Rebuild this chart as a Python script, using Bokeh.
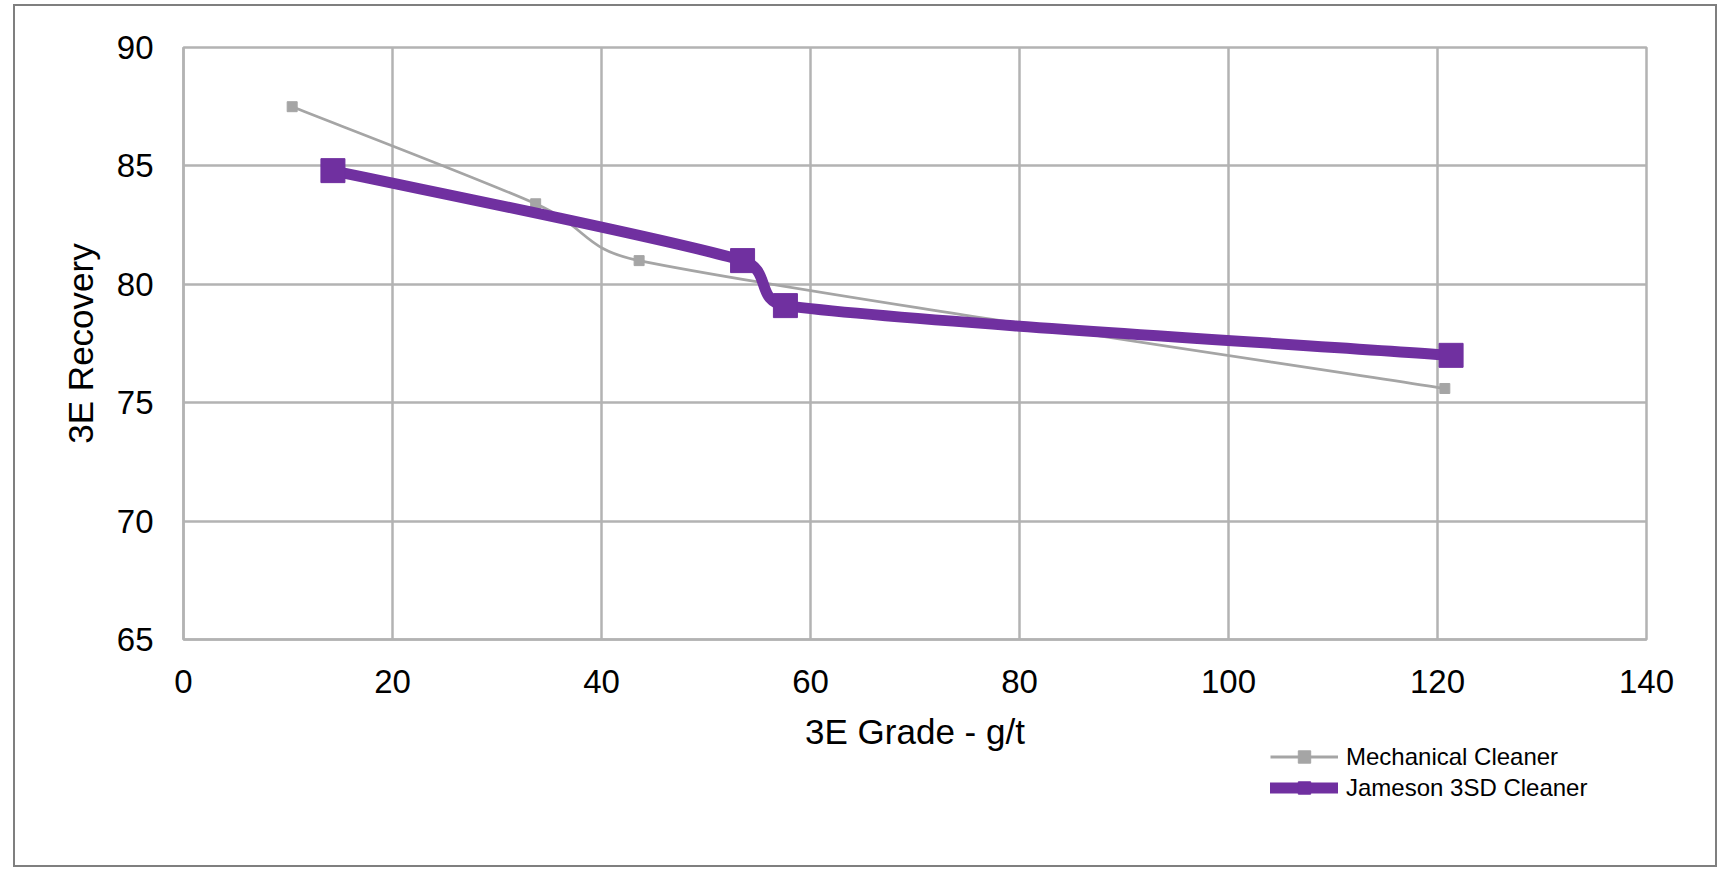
import math
from bokeh.plotting import figure
from bokeh.layouts import column
from bokeh.models import Legend, LegendItem, FixedTicker, Range1d, ColumnDataSource
from bokeh.embed import file_html
from bokeh.resources import INLINE

# ---- data ----
mech_x = [10.4, 33.7, 43.6, 120.7]
mech_y = [87.5, 83.4, 81.0, 75.6]
jam_x = [14.3, 53.5, 57.6, 121.3]
jam_y = [84.8, 81.0, 79.1, 77.0]
x_ticks = [0, 20, 40, 60, 80, 100, 120, 140]
y_ticks = [65, 70, 75, 80, 85, 90]
mech_label = "Mechanical Cleaner"
jam_label = "Jameson 3SD Cleaner"
x_title = "3E Grade - g/t"
y_title = "3E Recovery"

# ---- style ----
GRAY = "#a5a5a5"
PURPLE = "#7030a0"
GRID = "#b3b3b3"
FONT = "Liberation Sans"
FW, FH = 1463, 592
ML, MR, MT = 168, 69, 41
X0, X1, Y0, Y1 = 0, 140, 65, 90
KX = FW / (X1 - X0)
KY = FH / (Y1 - Y0)


def smooth_segments(xs, ys):
    """Excel-style smoothed line: cubic Bezier control points per segment."""
    n = len(xs)
    px = [x * KX for x in xs]
    py = [y * KY for y in ys]
    out = {k: [] for k in ("x0", "y0", "x1", "y1", "cx0", "cy0", "cx1", "cy1")}
    for i in range(n - 1):
        i0 = max(i - 1, 0)
        i3 = min(i + 2, n - 1)
        p0 = (px[i0], py[i0]); p1 = (px[i], py[i])
        p2 = (px[i + 1], py[i + 1]); p3 = (px[i3], py[i3])
        d12 = math.hypot(p2[0] - p1[0], p2[1] - p1[1])
        d02 = math.hypot(p2[0] - p0[0], p2[1] - p0[1])
        d13 = math.hypot(p3[0] - p1[0], p3[1] - p1[1])
        f1 = 1 / 6 if (d02 / 6 < d12 / 2 or d02 == 0) else d12 / (2 * d02)
        f2 = 1 / 6 if (d13 / 6 < d12 / 2 or d13 == 0) else d12 / (2 * d13)
        c1 = (p1[0] + (p2[0] - p0[0]) * f1, p1[1] + (p2[1] - p0[1]) * f1)
        c2 = (p2[0] - (p3[0] - p1[0]) * f2, p2[1] - (p3[1] - p1[1]) * f2)
        out["x0"].append(xs[i]); out["y0"].append(ys[i])
        out["x1"].append(xs[i + 1]); out["y1"].append(ys[i + 1])
        out["cx0"].append(c1[0] / KX); out["cy0"].append(c1[1] / KY)
        out["cx1"].append(c2[0] / KX); out["cy1"].append(c2[1] / KY)
    return ColumnDataSource(out)


p = figure(
    frame_width=FW, frame_height=FH,
    x_range=Range1d(X0, X1), y_range=Range1d(Y0, Y1),
    output_backend="svg", toolbar_location=None,
    min_border_left=ML, min_border_right=MR,
    min_border_top=MT, min_border_bottom=60,
    background_fill_color="white", border_fill_color="white",
)
p.outline_line_color = GRID
p.outline_line_width = 2.5

for ax, ticks in ((p.xaxis, x_ticks), (p.yaxis, y_ticks)):
    ax.ticker = FixedTicker(ticks=ticks)
    ax.axis_line_color = GRID
    ax.axis_line_width = 2.5
    ax.major_tick_line_color = None
    ax.minor_tick_line_color = None
    ax.major_tick_out = 0
    ax.major_tick_in = 0
    ax.major_label_text_font = FONT
    ax.major_label_text_font_size = "33px"
    ax.major_label_text_color = "#000000"
    ax.axis_label_text_font = FONT
    ax.axis_label_text_font_size = "35px"
    ax.axis_label_text_font_style = "normal"
    ax.axis_label_text_color = "#000000"

p.xaxis.axis_label = x_title
p.yaxis.axis_label = y_title
p.xaxis.major_label_standoff = 30
p.yaxis.major_label_standoff = 30
p.xaxis.axis_label_standoff = 16
p.yaxis.axis_label_standoff = 14

p.xgrid.ticker = FixedTicker(ticks=x_ticks)
p.ygrid.ticker = FixedTicker(ticks=y_ticks)
for g in (p.xgrid, p.ygrid):
    g.grid_line_color = GRID
    g.grid_line_width = 2.5

# Mechanical cleaner
p.bezier(x0="x0", y0="y0", x1="x1", y1="y1", cx0="cx0", cy0="cy0", cx1="cx1", cy1="cy1",
         source=smooth_segments(mech_x, mech_y), line_color=GRAY, line_width=2.7)
p.scatter(mech_x, mech_y, marker="square", size=10, fill_color=GRAY, line_color=GRAY)

# Jameson 3SD cleaner
p.bezier(x0="x0", y0="y0", x1="x1", y1="y1", cx0="cx0", cy0="cy0", cx1="cx1", cy1="cy1",
         source=smooth_segments(jam_x, jam_y), line_color=PURPLE, line_width=11, line_cap="round")
p.scatter(jam_x, jam_y, marker="square", size=24, fill_color=PURPLE, line_color=PURPLE)

# ---- legend strip (own small transparent figure under the chart, same borders so frames align) ----
LH = 124
leg_fig = figure(
    frame_width=FW, frame_height=LH,
    x_range=Range1d(0, 1), y_range=Range1d(0, 1),
    output_backend="svg", toolbar_location=None,
    x_axis_location=None, y_axis_location=None,
    min_border_left=ML, min_border_right=MR, min_border_top=0, min_border_bottom=0,
    background_fill_alpha=0, border_fill_alpha=0,
    margin=(-12, 0, 0, 0),
)
leg_fig.grid.visible = False
leg_fig.outline_line_color = None
# proxy renderers for the legend keys (kept outside the strip's visible range)
off = [-5, -4]
mech_l = leg_fig.line(off, off, line_color=GRAY, line_width=3)
mech_m = leg_fig.scatter(off, off, marker="square", size=10, fill_color=GRAY, line_color=GRAY)
jam_l = leg_fig.line(off, off, line_color=PURPLE, line_width=11, line_cap="round")
jam_m = leg_fig.scatter(off, off, marker="square", size=14, fill_color=PURPLE, line_color=PURPLE)

legend = Legend(
    items=[LegendItem(label=mech_label, renderers=[mech_l, mech_m]),
           LegendItem(label=jam_label, renderers=[jam_l, jam_m])],
    location="top_right", orientation="vertical",
    label_text_font=FONT, label_text_font_size="24px", label_text_color="#000000",
    border_line_color=None, background_fill_alpha=0,
    padding=0, margin=0, spacing=0,
    glyph_width=68, glyph_height=31, label_height=31, label_standoff=8,
    label_width=300,
)
leg_fig.add_layout(legend, "center")

page = column(p, leg_fig, margin=(4, 0, 0, 13), spacing=0,
              styles={"border": "2px solid #7f7f7f", "background": "white"})

open("out.html", "w").write(file_html(page, INLINE))
